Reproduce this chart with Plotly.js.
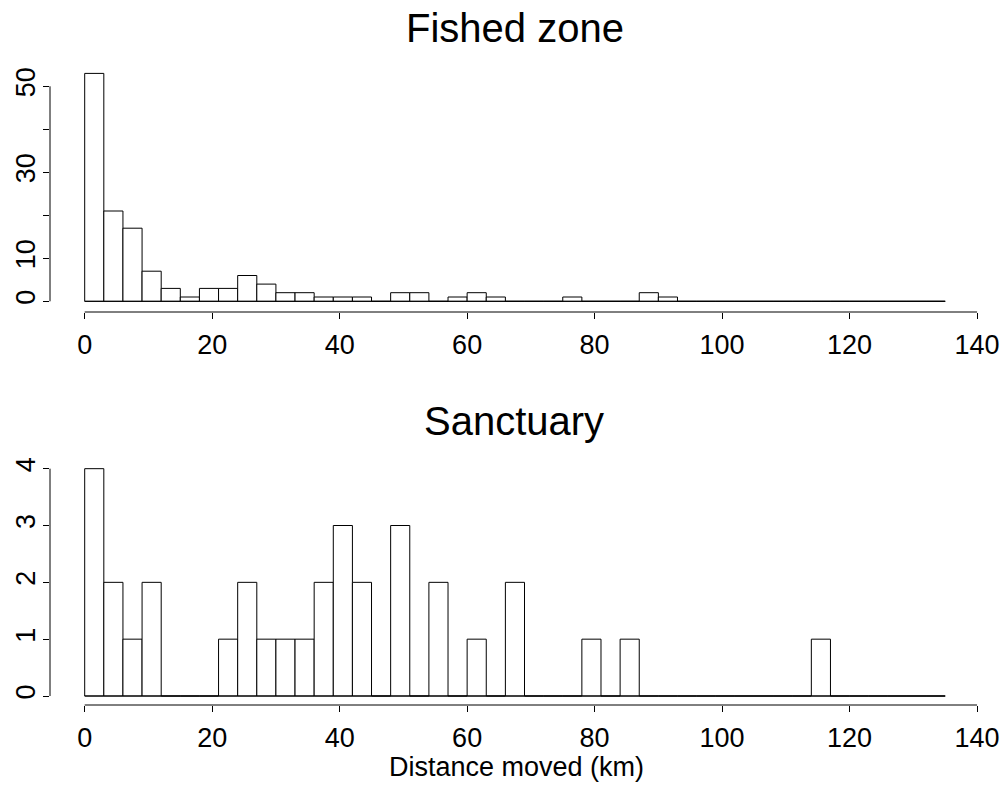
<!DOCTYPE html>
<html>
<head>
<meta charset="utf-8">
<script src="https://cdn.plot.ly/plotly-3.0.1.min.js"></script>
<style>html,body{margin:0;padding:0;background:#fff;}#chart{width:1003px;height:787px;}</style>
</head>
<body>
<div id="chart"></div>
<script>
// Histogram bins: 3 km wide, starting at 0 km
const binStart = 0;
const binWidth = 3;
// Counts per bin (0-3, 3-6, ..., 132-135)
const fishedCounts = [53,21,17,7,3,1,3,3,6,4,2,2,1,1,1,0,2,2,0,1,2,1,0,0,0,1,0,0,0,2,1,0,0,0,0,0,0,0,0,0,0,0,0,0,0];
const sanctuaryCounts = [4,2,1,2,0,0,0,1,2,1,1,1,2,3,2,0,3,0,2,0,1,0,2,0,0,0,1,0,1,0,0,0,0,0,0,0,0,0,1,0,0,0,0,0,0];
const xTicks = [0,20,40,60,80,100,120,140];
const fishedYTicks = [0,10,20,30,40,50];
const fishedYTickText = ['0','10','','30','','50'];
const sanctYTicks = [0,1,2,3,4];
const titles = ['Fished zone','Sanctuary'];
const xLabel = 'Distance moved (km)';

const centers = c => c.map((_, i) => binStart + binWidth * (i + 0.5));
const nBins = fishedCounts.length;
const binEnd = binStart + binWidth * nBins;

const FONT = 'Liberation Sans, Arial, Helvetica, sans-serif';
const W = 1003, H = 787;

function barTrace(counts, xa, ya) {
  return {
    type: 'bar', x: centers(counts), y: counts, width: binWidth,
    xaxis: xa, yaxis: ya,
    marker: {color: '#ffffff', line: {color: '#000000', width: 1}},
    hoverinfo: 'x+y', showlegend: false
  };
}
function baseTrace(xa, ya) {
  return {
    type: 'scatter', mode: 'lines', x: [binStart, binEnd], y: [0, 0],
    xaxis: xa, yaxis: ya, line: {color: '#000000', width: 1},
    hoverinfo: 'skip', showlegend: false
  };
}

const data = [
  baseTrace('x', 'y'), barTrace(fishedCounts, 'x', 'y'),
  baseTrace('x2', 'y2'), barTrace(sanctuaryCounts, 'x2', 'y2')
];

const xDom = [50 / W, 990 / W];
const xRange = [(50 - 84.7) / 6.374, (990 - 84.7) / 6.374];

const xCommon = {
  domain: xDom, range: xRange, showgrid: false, zeroline: false, showline: false,
  ticks: 'outside', ticklen: 6, tickwidth: 1, tickcolor: '#000',
  tickvals: xTicks, ticktext: xTicks.map(String), ticklabelstandoff: 3,
  tickfont: {family: FONT, size: 27, color: '#000'}, fixedrange: true
};
const yCommon = {
  showgrid: false, zeroline: false, showline: false,
  ticks: 'outside', ticklen: 6, tickwidth: 1, tickcolor: '#000',
  tickangle: -90, ticklabelstandoff: -3,
  tickfont: {family: FONT, size: 27, color: '#000'}, fixedrange: true
};

const layout = {
  width: W, height: H,
  margin: {l: 0, r: 0, t: 0, b: 0, pad: 0},
  paper_bgcolor: '#fff', plot_bgcolor: '#fff',
  bargap: 0, showlegend: false,
  font: {family: FONT, color: '#000'},
  xaxis: Object.assign({}, xCommon, {anchor: 'y'}),
  yaxis: Object.assign({}, yCommon, {
    anchor: 'x', domain: [1 - 312 / H, 1 - 66 / H], range: [-2.488, 54.72],
    tickvals: fishedYTicks, ticktext: fishedYTickText
  }),
  xaxis2: Object.assign({}, xCommon, {anchor: 'y2'}),
  yaxis2: Object.assign({}, yCommon, {
    anchor: 'x2', domain: [1 - 705 / H, 1 - 459.7 / H], range: [-0.1584, 4.158],
    tickvals: sanctYTicks, ticktext: sanctYTicks.map(String)
  }),
  shapes: [
    {type: 'line', xref: 'x', yref: 'y domain', x0: xTicks[0], x1: xTicks[xTicks.length - 1], y0: 0, y1: 0, line: {color: '#000', width: 1}},
    {type: 'line', xref: 'x domain', yref: 'y', x0: 0, x1: 0, y0: fishedYTicks[0], y1: fishedYTicks[fishedYTicks.length - 1], line: {color: '#000', width: 1}},
    {type: 'line', xref: 'x2', yref: 'y2 domain', x0: xTicks[0], x1: xTicks[xTicks.length - 1], y0: 0, y1: 0, line: {color: '#000', width: 1}},
    {type: 'line', xref: 'x2 domain', yref: 'y2', x0: 0, x1: 0, y0: sanctYTicks[0], y1: sanctYTicks[sanctYTicks.length - 1], line: {color: '#000', width: 1}}
  ],
  annotations: [
    {text: titles[0], xref: 'paper', yref: 'paper', x: 515 / W, y: 1 - 27.8 / H, xanchor: 'center', yanchor: 'middle', showarrow: false, font: {family: FONT, size: 40, color: '#000'}},
    {text: titles[1], xref: 'paper', yref: 'paper', x: 514 / W, y: 1 - 421.1 / H, xanchor: 'center', yanchor: 'middle', showarrow: false, font: {family: FONT, size: 40, color: '#000'}},
    {text: xLabel, xref: 'paper', yref: 'paper', x: 516 / W, y: 1 - 767.3 / H, xanchor: 'center', yanchor: 'middle', showarrow: false, font: {family: FONT, size: 27, color: '#000'}}
  ]
};

Plotly.newPlot('chart', data, layout, {displayModeBar: false, staticPlot: true});
</script>
</body>
</html>
